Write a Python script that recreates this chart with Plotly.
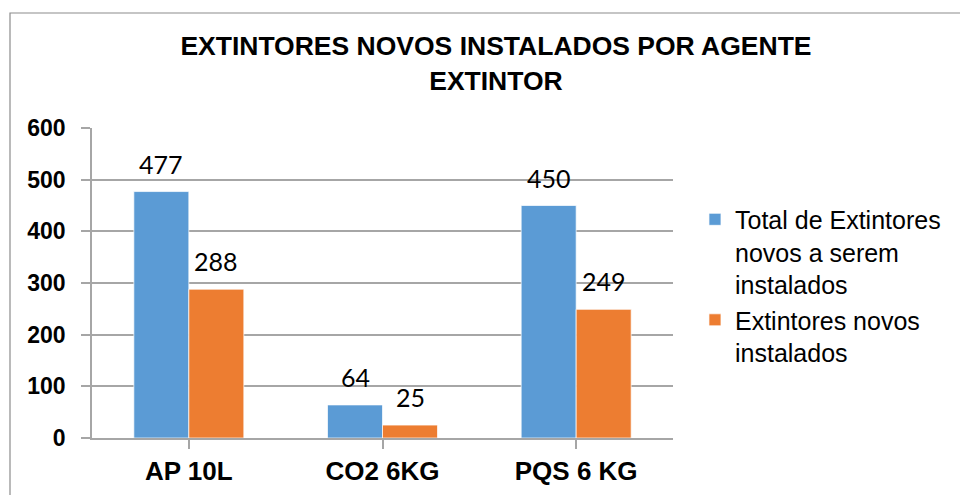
import plotly.graph_objects as go

categories = ["AP 10L", "CO2 6KG", "PQS 6 KG"]
series_names = ["Total de Extintores<br>novos a serem<br>instalados", "Extintores novos<br>instalados"]
total_values = [477, 64, 450]
installed_values = [288, 25, 249]
y_ticks = [0, 100, 200, 300, 400, 500, 600]
colors = ["#5B9BD5", "#ED7D31"]

BARGAP = 0.432
half = (1 - BARGAP) / 4  # center offset of each bar within group, in category units

fig = go.Figure()
for name, vals, col in zip(series_names, [total_values, installed_values], colors):
    fig.add_trace(go.Bar(
        x=list(range(len(categories))), y=vals, name=name,
        marker=dict(color=col, line=dict(color="rgba(255,255,255,0.7)", width=1)),
    ))

annotations = []
for k, vals in enumerate([total_values, installed_values]):
    off = -half if k == 0 else half
    for j, v in enumerate(vals):
        annotations.append(dict(
            x=j + off, y=v, xref="x", yref="y", text=str(v), showarrow=False,
            yanchor="bottom", xanchor="center", yshift=11,
            font=dict(family="Lato, Open Sans, sans-serif", size=25, color="#000000"),
        ))

W, H = 960, 487
L, R, T, B = 84, 295, 120, 57
PW, PH = W - L - R, H - T - B

fig.update_layout(
    width=W, height=H,
    margin=dict(l=L, r=R, t=T, b=B, autoexpand=False),
    paper_bgcolor="white", plot_bgcolor="white",
    barmode="group", bargap=BARGAP, bargroupgap=0,
    title=dict(
        text="<b>EXTINTORES NOVOS INSTALADOS POR AGENTE<br>EXTINTOR</b>",
        x=0.5083, xref="container", xanchor="center",
        y=0.9025, yref="container", yanchor="top",
        font=dict(family="Liberation Sans, Arial, sans-serif", size=26.5, color="#000000"),
    ),
    legend=dict(
        x=0.7156, xref="container", xanchor="left",
        y=0.429, yref="container", yanchor="middle",
        font=dict(family="Liberation Sans, Arial, sans-serif", size=25, color="#000000"),
        valign="top", bgcolor="rgba(0,0,0,0)",
    ),
    annotations=annotations,
    shapes=[dict(
        type="rect", xref="paper", yref="paper",
        x0=(2 - L) / PW, x1=(W + 20 - L) / PW,
        y0=-(B + 20) / PH, y1=(T - 5) / PH + 1,
        line=dict(color="#8c8c8c", width=1.2), fillcolor="rgba(0,0,0,0)", layer="below",
    )],
    showlegend=True,
)

fig.update_xaxes(
    tickmode="array", tickvals=list(range(len(categories))), ticktext=categories,
    range=[-0.5, len(categories) - 0.5], automargin=False,
    showline=True, linecolor="#a6a6a6", linewidth=1.5,
    ticks="outside", tickson="boundaries", ticklen=9, tickcolor="#a6a6a6", tickwidth=1.5,
    showgrid=False, zeroline=False,
    tickfont=dict(family="Liberation Sans, Arial, sans-serif", size=26, color="#000000", weight="bold"),
)
fig.update_yaxes(
    range=[0, 600], tickmode="array", tickvals=y_ticks, automargin=False,
    showline=True, linecolor="#a6a6a6", linewidth=1.5,
    ticks="outside", ticklen=9, tickcolor="#a6a6a6", tickwidth=1.5,
    showgrid=True, gridcolor="#a6a6a6", gridwidth=1.5, zeroline=False,
    ticklabelstandoff=11,
    tickfont=dict(family="Liberation Sans, Arial, sans-serif", size=23, color="#000000", weight="bold"),
)

fig.write_html("out.html")
